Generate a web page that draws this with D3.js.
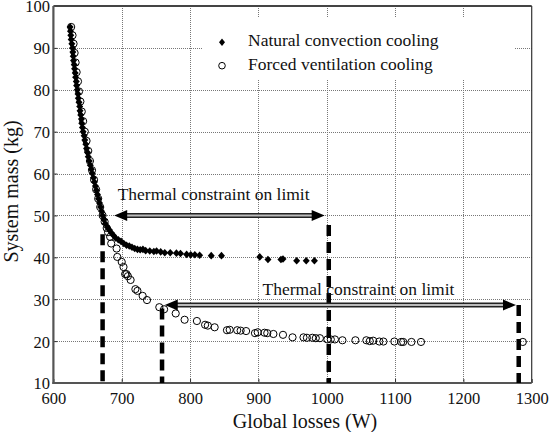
<!DOCTYPE html>
<html><head><meta charset="utf-8">
<script src="https://cdn.jsdelivr.net/npm/d3@7/dist/d3.min.js"></script>
<style>body{margin:0;background:#fff}</style>
</head><body>
<script>
const xTicks = [600,700,800,900,1000,1100,1200,1300];
const yTicks = [10,20,30,40,50,60,70,80,90,100];
const seriesNames = ["Natural convection cooling","Forced ventilation cooling"];
const natural = [[624.5,95],[625,94],[625.5,93],[626,92],[627,91],[628,90],[628.5,89],[629,88],[629.5,87],[630.5,86],[631,85],[632,84],[632.5,83],[633.5,82],[634,81],[635,80],[636,79],[636.5,78],[637.5,77],[638.5,76],[639,75],[640,74],[641,73],[641.5,72],[642.5,71],[643.5,70],[645,69],[646,68],[647.5,67],[648.5,66],[650,65],[651,64],[652.5,63],[654,62],[655.5,61],[657,60],[658.5,59],[660,58],[661.5,57],[663,56],[664.5,55],[666,54],[667.5,53],[669,52],[670.5,51],[672,50],[674,49],[676,48],[679,47.2],[682,46.5],[685,45.8],[688,45.2],[691,44.6],[695,44.2],[699,43.8],[703,43.3],[707,42.9],[711,42.7],[715,42.4],[719,42.1],[723,41.9],[727,41.8],[731,41.9],[735,41.6],[741,41.5],[747,41.4],[751,41.5],[757,41.3],[763,41.1],[771,41.1],[780,41.0],[786,40.9],[795,40.7],[801,40.6],[807,40.6],[814,40.5],[831,40.4],[846,40.4],[902,40.1],[914,39.5],[933,39.5],[936,39.6],[956,39.2],[970,39.2],[982,39.2]];
const forced = [[626,95],[628,93],[629.5,91],[631,88.8],[632.5,86.5],[634,84.2],[636,82],[637.5,79.6],[639.5,77.2],[641.5,74.8],[643.5,72.5],[646,70],[648.5,67.8],[651,65.4],[653.5,63],[656.5,60.8],[659.5,58.5],[662.5,56.2],[665.5,54],[668.5,52],[672,50],[675,48.5],[678,47],[680,46],[683,44.9],[684.6,43.3],[692.5,42.1],[693.5,40.1],[700,38.9],[702.6,37.7],[705,36.0],[707,36.0],[709,35.5],[713,34.6],[720,32.4],[723,32.0],[730.6,30.8],[737,29.8],[755,28.1],[762,27.6],[779,26.6],[792,25.1],[810,24.8],[822,23.9],[826,23.7],[836,23.3],[854,22.6],[858,22.7],[869,22.6],[874,22.5],[882,22.4],[895,21.9],[899,22.1],[909,22.0],[913,21.9],[922,21.7],[936,21.5],[950,20.9],[966,20.9],[971,20.8],[979,20.8],[984,20.7],[990,20.7],[1001,20.4],[1006,20.4],[1012,20.4],[1023,20.2],[1042,20.2],[1058,20.2],[1063,20.0],[1068,20.1],[1077,19.9],[1083,19.9],[1099,19.9],[1109,19.8],[1112,19.8],[1124,19.8],[1138,19.8],[1287,19.8]];
const arrowX1 = [689, 763];
const arrowX2 = [997, 1277];
const arrowY = [50, 28.6];
const labelText = ["Thermal constraint on limit","Thermal constraint on limit"];
const labelX = [694, 906];
const labelY = [53.7, 31.0];
const dashX = [672, 759, 1003, 1281];
const dashTop = [45.5, 27.8, 47.7, 28.6];

const W = 551, H = 432;
const FONT = '"Liberation Serif"';
const x = d3.scaleLinear().domain([600,1300]).range([53.4,531.7]);
const y = d3.scaleLinear().domain([10,100]).range([383,6]);
const svg = d3.select("body").append("svg").attr("width",W).attr("height",H).style("display","block");

// grid
const grid = svg.append("g").attr("stroke","#777").attr("stroke-width",1).attr("stroke-dasharray","1,1").attr("shape-rendering","crispEdges");
grid.selectAll(".gx").data(xTicks.slice(1,-1)).join("line")
  .attr("x1",d=>Math.round(x(d))+0.5).attr("x2",d=>Math.round(x(d))+0.5).attr("y1",y(100)).attr("y2",y(10));
grid.selectAll(".gy").data(yTicks.slice(1,-1)).join("line")
  .attr("y1",d=>Math.round(y(d))+0.5).attr("y2",d=>Math.round(y(d))+0.5).attr("x1",x(600)).attr("x2",x(1300));

// legend background
svg.append("rect").attr("x",203).attr("y",18).attr("width",311).attr("height",62).attr("fill","#fff");

// axes
const xa = svg.append("g").attr("transform",`translate(0,${y(10)})`)
  .call(d3.axisBottom(x).tickValues(xTicks).tickSize(-4).tickPadding(9).tickFormat(d3.format("d")));
const ya = svg.append("g").attr("transform",`translate(${x(600)},0)`)
  .call(d3.axisLeft(y).tickValues(yTicks).tickSize(-4).tickPadding(3.5).tickFormat(d3.format("d")));
[xa,ya].forEach(a=>{
  a.attr("font-family",FONT);
  a.select(".domain").remove();
  a.selectAll("line").attr("stroke","#333");
  a.selectAll("text").style("font-family",FONT).attr("font-size",16.5).attr("fill","#111");
});
ya.selectAll("text").attr("dy","0.36em");
xa.selectAll("text").attr("dy","0.71em");

// frame
svg.append("line").attr("x1",x(600)).attr("x2",x(1300)).attr("y1",y(100)).attr("y2",y(100)).attr("stroke","#444").attr("stroke-width",2);
svg.append("line").attr("x1",x(1300)).attr("x2",x(1300)).attr("y1",y(100)).attr("y2",y(10)).attr("stroke","#333").attr("stroke-width",1.2);
svg.append("line").attr("x1",x(600)).attr("x2",x(600)).attr("y1",y(100)).attr("y2",y(10)+1).attr("stroke","#555").attr("stroke-width",2.2);
svg.append("line").attr("x1",x(600)-1).attr("x2",x(1300)).attr("y1",y(10)).attr("y2",y(10)).attr("stroke","#555").attr("stroke-width",2.2);

// dashed verticals
svg.append("g").selectAll("line").data(dashX).join("line")
  .attr("x1",d=>x(d)).attr("x2",d=>x(d))
  .attr("y1",(d,i)=>y(dashTop[i])).attr("y2",y(10))
  .attr("stroke","#000").attr("stroke-width",4.5).attr("stroke-dasharray","11,6");

// markers
const diamond = "M0,-3.8L3.5,0L0,3.8L-3.5,0Z";
svg.append("g").selectAll("path").data(natural).join("path")
  .attr("d",diamond).attr("transform",d=>`translate(${x(d[0])},${y(d[1])})`).attr("fill","#000");
svg.append("g").selectAll("circle").data(forced).join("circle")
  .attr("cx",d=>x(d[0])).attr("cy",d=>y(d[1])).attr("r",3.6)
  .attr("fill","none").attr("stroke","#000").attr("stroke-width",1);

// arrows
const ag = svg.append("g");
arrowY.forEach((v,i)=>{
  const x1 = x(arrowX1[i]), x2 = x(arrowX2[i]), yy = y(v);
  ag.append("line").attr("x1",x1+10).attr("x2",x2-10).attr("y1",yy).attr("y2",yy).attr("stroke","#222").attr("stroke-width",5);
  ag.append("line").attr("x1",x1+10).attr("x2",x2-10).attr("y1",yy).attr("y2",yy).attr("stroke","#bbb").attr("stroke-width",2);
  ag.append("path").attr("d",`M${x1},${yy}L${x1+13},${yy-5.5}L${x1+13},${yy+5.5}Z`).attr("fill","#000");
  ag.append("path").attr("d",`M${x2},${yy}L${x2-13},${yy-5.5}L${x2-13},${yy+5.5}Z`).attr("fill","#000");
});

// labels
svg.append("g").selectAll("text").data(labelText).join("text")
  .attr("x",(d,i)=>x(labelX[i])).attr("y",(d,i)=>y(labelY[i]))
  .style("font-family",FONT).attr("font-size",17.5).attr("fill","#111").text(d=>d);

// legend
svg.append("path").attr("d","M0,-3.8L3,0L0,3.8L-3,0Z").attr("transform","translate(222,42.3)").attr("fill","#000");
svg.append("circle").attr("cx",222).attr("cy",65.7).attr("r",3.3).attr("fill","none").attr("stroke","#000");
svg.append("g").selectAll("text").data(seriesNames).join("text")
  .attr("x",248).attr("y",(d,i)=>45.5+i*24.5).style("font-family",FONT).attr("font-size",17.5).attr("fill","#111").text(d=>d);

// axis titles
svg.append("text").attr("x",305).attr("y",428).attr("text-anchor","middle").style("font-family",FONT).attr("font-size",20).attr("fill","#111").text("Global losses (W)");
svg.append("text").attr("transform",`translate(17.5,191.5) rotate(-90)`).attr("text-anchor","middle").style("font-family",FONT).attr("font-size",20).attr("fill","#111").text("System mass (kg)");
</script>
</body></html>
